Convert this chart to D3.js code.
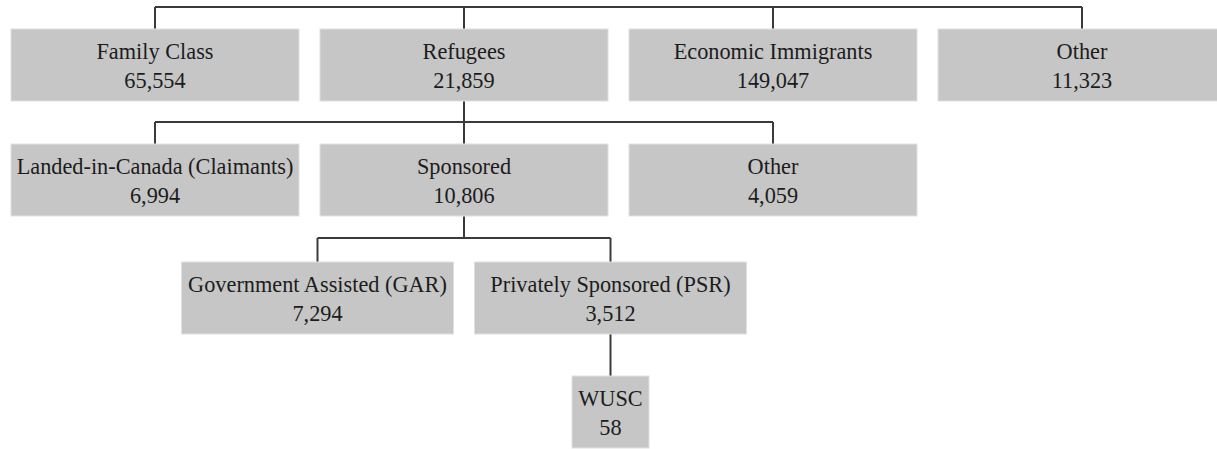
<!DOCTYPE html>
<html>
<head>
<meta charset="utf-8">
<script src="https://cdn.jsdelivr.net/npm/d3@7"></script>
<style>
  body { margin: 0; background: #fff; }
  svg { display: block; }
  svg text { font-family: "Liberation Serif", "Times New Roman", Tinos, serif; font-size: 23px; }
</style>
</head>
<body>
<svg id="chart" width="1217" height="449" font-family="Liberation Serif"></svg>
<script>
// node names, counts and parents (root is the unlabelled admissions total)
const names = ["root", "Family Class", "Refugees", "Economic Immigrants", "Other",
  "Landed-in-Canada (Claimants)", "Sponsored", "Other ",
  "Government Assisted (GAR)", "Privately Sponsored (PSR)", "WUSC"];
const counts = [null, 65554, 21859, 149047, 11323, 6994, 10806, 4059, 7294, 3512, 58];
const parents = [null, "root", "root", "root", "root",
  "Refugees", "Refugees", "Refugees", "Sponsored", "Sponsored", "Privately Sponsored (PSR)"];

// per-depth box geometry
const boxW = [0, 288, 288, 272, 77];
const boxTop = [0, 29, 144, 262, 376];
const boxH = 72;
const gap = 21;
const rootBarY = 7;
const squeeze = 0.97; // source type is a touch narrower than Liberation Serif

const svg = d3.select("#chart");
const fmt = d3.format(",");

const rows = names.map((n, i) => ({ name: n, value: counts[i], parent: parents[i] }));
const root = d3.stratify().id(d => d.name).parentId(d => d.parent)(rows);

// place children centred under their parent
root.x = 618.5;
root.eachBefore(node => {
  if (!node.children) return;
  const k = node.children.length;
  const step = boxW[node.depth + 1] + gap;
  node.children.forEach((c, i) => {
    c.x = node.x + (i - (k - 1) / 2) * step;
  });
});
root.each(n => {
  n.top = boxTop[n.depth];
  n.bottom = n.top + boxH;
});

// connectors
const links = svg.append("g")
  .attr("fill", "none")
  .attr("stroke", "#3a3a3a")
  .attr("stroke-width", 2);
root.each(node => {
  if (!node.children) return;
  const kids = node.children;
  if (kids.length === 1) {
    links.append("path")
      .attr("d", d3.line()([[node.x, node.bottom], [kids[0].x, kids[0].top]]));
    return;
  }
  const barY = node.depth === 0 ? rootBarY : Math.round((node.bottom + kids[0].top) / 2) - 1;
  if (node.depth > 0) {
    links.append("path")
      .attr("d", d3.line()([[node.x, node.bottom], [node.x, barY]]));
  }
  const xs = kids.map(c => c.x);
  links.append("path")
    .attr("d", d3.line()([[d3.min(xs), barY], [d3.max(xs), barY]]));
  kids.forEach(c => {
    links.append("path")
      .attr("d", d3.line()([[c.x, barY], [c.x, c.top]]));
  });
});

// boxes
const nodes = svg.append("g").selectAll("g")
  .data(root.descendants().filter(d => d.depth > 0))
  .join("g")
  .attr("transform", d => `translate(${d.x - boxW[d.depth] / 2},${d.top})`);

nodes.append("rect")
  .attr("width", d => boxW[d.depth])
  .attr("height", boxH)
  .attr("fill", "#c6c6c6")
  .attr("stroke", "#e0e0e0")
  .attr("stroke-width", 1);

nodes.append("text")
  .attr("transform", d => `translate(${boxW[d.depth] / 2},30) scale(${squeeze},1)`)
  .attr("text-anchor", "middle")
  .attr("fill", "#1c1c1c")
  .text(d => d.data.name.trim());

nodes.append("text")
  .attr("transform", d => `translate(${boxW[d.depth] / 2},59) scale(${squeeze},1)`)
  .attr("text-anchor", "middle")
  .attr("fill", "#1c1c1c")
  .text(d => fmt(d.data.value));
</script>
</body>
</html>
